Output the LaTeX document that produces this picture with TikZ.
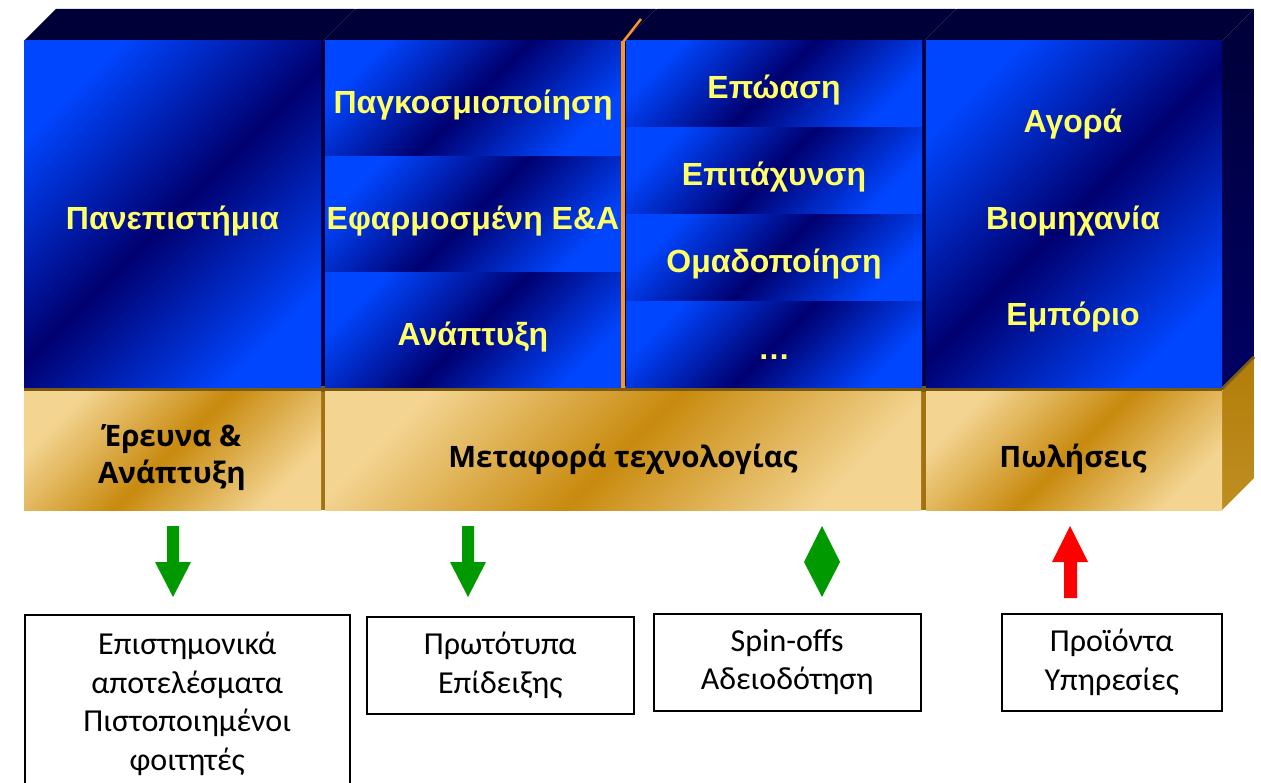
\documentclass[tikz,border=0pt]{standalone}
\usepackage{fontspec}
\setmainfont{Liberation Sans}
\newfontfamily\bluefont{Liberation Sans}
\newfontfamily\goldfont{Open Sans}
\newfontfamily\boxfont{Carlito}
\newcommand{\lowertxt}[1]{\raisebox{-3.5pt}{#1}}
\definecolor{bbright}{RGB}{0,70,255}
\definecolor{bdark}{RGB}{0,0,112}
\definecolor{glight}{RGB}{243,212,145}
\definecolor{gdark}{RGB}{200,138,14}
\definecolor{topnavy}{RGB}{0,0,56}
\definecolor{sidenavy}{RGB}{0,0,100}
\definecolor{gapnavy}{RGB}{0,0,70}
\definecolor{gapgold}{RGB}{160,114,18}
\definecolor{browntop}{RGB}{122,90,16}
\definecolor{goldside}{RGB}{178,125,8}
\definecolor{ylw}{RGB}{255,255,102}
\definecolor{grn}{RGB}{0,153,0}
\definecolor{orng}{RGB}{250,150,40}
\pgfdeclarehorizontalshading{blueref}{100bp}{color(0bp)=(bbright); color(25bp)=(bbright); color(50bp)=(bdark); color(75bp)=(bbright); color(100bp)=(bbright)}
\pgfdeclarehorizontalshading{goldref}{100bp}{color(0bp)=(glight); color(25bp)=(glight); color(50bp)=(gdark); color(75bp)=(glight); color(100bp)=(glight)}
\tikzset{
  bluecell/.style={shade, shading=blueref, shading angle=-45, anchor=north west, inner sep=0pt, outer sep=0pt, text=ylw, text height=23pt, text depth=0pt, font=\bluefont\bfseries\fontsize{32}{38}\selectfont},
  goldcell/.style={shade, shading=goldref, shading angle=-45, anchor=north west, inner sep=0pt, outer sep=0pt},
  goldlabel/.style={align=center, text=black, inner sep=0pt, font=\goldfont\bfseries\fontsize{29.5}{37}\selectfont},
  bluelabel/.style={text=ylw, text height=23pt, text depth=0pt, font=\bluefont\bfseries\fontsize{32}{38}\selectfont, inner sep=0pt},
  outbox/.style={draw=black, line width=1.5pt, fill=white, anchor=north west, inner sep=0pt, align=center, font=\boxfont\fontsize{32}{38.5}\selectfont},
  topface/.style={fill=topnavy},
  greenshape/.style={fill=grn},
  redshape/.style={fill=red}
}
\begin{document}
\begin{tikzpicture}[x=1pt,y=-1pt]
\useasboundingbox (0,0) rectangle (1261,783);
\clip (0,0) rectangle (1261,783);
\fill[white] (0,0) rectangle (1261,783);
% top faces
\fill[topface] (24,41) -- (56,9) -- (355,9) -- (323,41) -- cycle;
\fill[topface] (323,41) -- (355,9) -- (656,9) -- (624,41) -- cycle;
\fill[topface] (624,41) -- (656,9) -- (956,9) -- (924,41) -- cycle;
\fill[topface] (924,41) -- (956,9) -- (1254,9) -- (1222,41) -- cycle;
\draw[white, line width=0.8pt] (355,9) -- (357,7) (656,9) -- (658,7) (956,9) -- (958,7);
% right side faces
\shade[top color=topnavy, bottom color=sidenavy] (1222,41) -- (1254,9) -- (1254,358) -- (1222,390) -- cycle;
\shade[top color=goldside, bottom color=goldside!80!glight] (1222,391) -- (1254,359) -- (1254,478) -- (1222,510) -- cycle;
\draw[browntop, line width=3pt] (1222,389) -- (1254,357);
% backgrounds showing in gaps
\fill[gapnavy] (24,41) rectangle (1222,388);
\fill[gapgold] (24,388) rectangle (1222,510);
\fill[browntop] (24,386) rectangle (1222,392);
% column 1
\node[bluecell, minimum width=297pt, minimum height=347pt] (uni) at (24,41) {\lowertxt{Πανεπιστήμια}};
% column 2
\node[bluecell, minimum width=296pt, minimum height=115pt] (glob) at (325,41) {\lowertxt{Παγκοσμιοποίηση}};
\node[bluecell, minimum width=296pt, minimum height=115pt] (appl) at (325,157) {\lowertxt{Εφαρμοσμένη Ε\&Α}};
\node[bluecell, minimum width=296pt, minimum height=115pt] (dev) at (325,273) {\lowertxt{Ανάπτυξη}};
\fill[orng] (621,41) rectangle (625,388);
\draw[orng, line width=2.5pt] (623,42) -- (641,19);
% column 3
\node[bluecell, minimum width=296pt, minimum height=86pt] (inc) at (626,41) {\lowertxt{Επώαση}};
\node[bluecell, minimum width=296pt, minimum height=86pt] (acc) at (626,128) {\lowertxt{Επιτάχυνση}};
\node[bluecell, minimum width=296pt, minimum height=86pt] (clu) at (626,215) {\lowertxt{Ομαδοποίηση}};
\node[bluecell, minimum width=296pt, minimum height=86pt] (more) at (626,302) {\lowertxt{…}};
% column 4
\node[bluecell, minimum width=296pt, minimum height=347pt] (mkt) at (926,41) {};
\node[bluelabel] (agora) at (1073,121) {Αγορά};
\node[bluelabel] (biom) at (1073,218) {Βιομηχανία};
\node[bluelabel] (empo) at (1073,314) {Εμπόριο};
% gold bars
\node[goldcell, minimum width=297pt, minimum height=118pt] (rnd) at (24,392) {};
\node[goldcell, minimum width=596pt, minimum height=118pt] (tt) at (325,392) {};
\node[goldcell, minimum width=296pt, minimum height=118pt] (sales) at (926,392) {};
\node[goldlabel] (rndt) at (172,458) {Έρευνα \&\\Ανάπτυξη};
\node[goldlabel] (ttt) at (623,459) {Μεταφορά τεχνολογίας};
\node[goldlabel] (salest) at (1073,459) {Πωλήσεις};
% arrows
\fill[greenshape] (167,526) -- (179,526) -- (179,562) -- (191,562) -- (173,597) -- (155,562) -- (167,562) -- cycle;
\fill[greenshape] (462,526) -- (474,526) -- (474,562) -- (486,562) -- (468,597) -- (450,562) -- (462,562) -- cycle;
\fill[greenshape] (822,526) -- (840,562) -- (822,597) -- (804,562) -- cycle;
\fill[redshape] (1070,526) -- (1088,562) -- (1077,562) -- (1077,598) -- (1064,598) -- (1064,562) -- (1052,562) -- cycle;
% output boxes
\node[outbox, minimum width=325pt, minimum height=178pt] (res) at (24,614) {Επιστημονικά\\αποτελέσματα\\Πιστοποιημένοι\\φοιτητές};
\node[outbox, minimum width=267pt, minimum height=97pt] (proto) at (366,616) {Πρωτότυπα\\Επίδειξης};
\node[outbox, minimum width=267pt, minimum height=97pt] (spin) at (653,613) {Spin-offs\\Αδειοδότηση};
\node[outbox, minimum width=220pt, minimum height=97pt] (prod) at (1001,613) {Προϊόντα\\Υπηρεσίες};
\end{tikzpicture}
\end{document}
